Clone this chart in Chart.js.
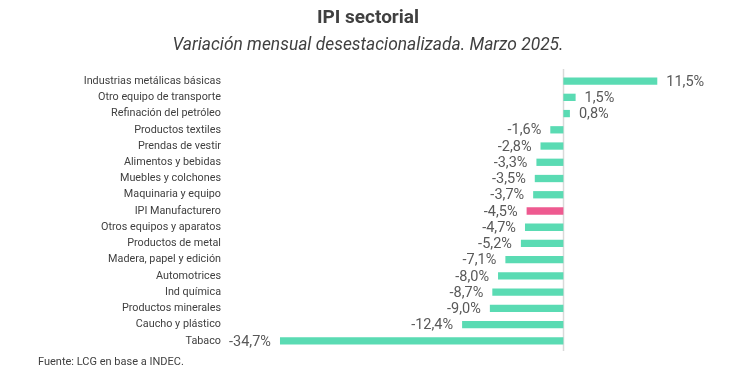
<!DOCTYPE html>
<html lang="es">
<head>
<meta charset="utf-8">
<title>IPI sectorial</title>
<script src="https://cdn.jsdelivr.net/npm/chart.js@4.4.1/dist/chart.umd.min.js"></script>
<style>
  html, body { margin: 0; padding: 0; background: #fff; }
  #wrap { position: relative; width: 730px; height: 371px; }
  #source {
    position: absolute; left: 38px; top: 355px;
    font: 11px Roboto, sans-serif; color: #404040;
  }
</style>
</head>
<body>
<div id="wrap">
  <canvas id="chart" width="730" height="371"></canvas>
  <div id="source">Fuente: LCG en base a INDEC.</div>
</div>
<script>
// sectores y variación mensual (%)
const sectors = [
  'Industrias metálicas básicas',
  'Otro equipo de transporte',
  'Refinación del petróleo',
  'Productos textiles',
  'Prendas de vestir',
  'Alimentos y bebidas',
  'Muebles y colchones',
  'Maquinaria y equipo',
  'IPI Manufacturero',
  'Otros equipos y aparatos',
  'Productos de metal',
  'Madera, papel y edición',
  'Automotrices',
  'Ind química',
  'Productos minerales',
  'Caucho y plástico',
  'Tabaco'
];
const variation = [11.5, 1.5, 0.8, -1.6, -2.8, -3.3, -3.5, -3.7, -4.5, -4.7, -5.2, -7.1, -8.0, -8.7, -9.0, -12.4, -34.7];
const highlight = 'IPI Manufacturero';

const TEAL = '#5ADBB3';
const PINK = '#EE5A90';
const TEXT = '#404040';

// línea del cero
const zeroLine = {
  id: 'zeroLine',
  beforeDatasetsDraw(chart) {
    const { ctx, chartArea, scales } = chart;
    const x = Math.round(scales.x.getPixelForValue(0)) + 0.5;
    ctx.save();
    ctx.strokeStyle = '#d9d9d9';
    ctx.lineWidth = 1.5;
    ctx.beginPath();
    ctx.moveTo(x, chartArea.top - 4);
    ctx.lineTo(x, chartArea.bottom + 2);
    ctx.stroke();
    ctx.restore();
  }
};

// etiquetas de valor al final de cada barra
const valueLabels = {
  id: 'valueLabels',
  afterDatasetsDraw(chart) {
    const { ctx } = chart;
    const meta = chart.getDatasetMeta(0);
    ctx.save();
    ctx.font = '14.5px Roboto, sans-serif';
    ctx.fillStyle = '#595959';
    ctx.textBaseline = 'middle';
    meta.data.forEach((bar, i) => {
      const v = variation[i];
      const txt = v.toFixed(1).replace('.', ',') + '%';
      if (v >= 0) {
        ctx.textAlign = 'left';
        ctx.fillText(txt, bar.x + 9, bar.y + 1);
      } else {
        ctx.textAlign = 'right';
        ctx.fillText(txt, bar.x - 9, bar.y + 1);
      }
    });
    ctx.restore();
  }
};

new Chart(document.getElementById('chart'), {
  type: 'bar',
  data: {
    labels: sectors,
    datasets: [{
      data: variation,
      backgroundColor: sectors.map(s => s === highlight ? PINK : TEAL),
      barPercentage: 0.9,
      categoryPercentage: 0.5,
      borderWidth: 0
    }]
  },
  options: {
    indexAxis: 'y',
    responsive: false,
    animation: false,
    layout: { padding: { left: 24, right: 18, top: 0, bottom: 22 } },
    plugins: {
      legend: { display: false },
      tooltip: { enabled: false },
      title: {
        display: true,
        text: 'IPI sectorial',
        color: TEXT,
        font: { family: 'Roboto, sans-serif', size: 19, weight: 'bold' },
        padding: { top: 7, bottom: 2 }
      },
      subtitle: {
        display: true,
        text: 'Variación mensual desestacionalizada. Marzo 2025.',
        color: TEXT,
        font: { family: 'Roboto, sans-serif', size: 17.4, style: 'italic' },
        padding: { top: 3, bottom: 17.3 }
      }
    },
    scales: {
      x: {
        display: false,
        min: -41.8,
        max: 18.2
      },
      y: {
        grid: { display: false, drawTicks: false },
        border: { display: false },
        ticks: {
          color: TEXT,
          padding: 1,
          font: { family: 'Roboto, sans-serif', size: 10.8 }
        },
        afterFit(scale) { scale.width = 198; }
      }
    }
  },
  plugins: [zeroLine, valueLabels]
});
</script>
</body>
</html>
